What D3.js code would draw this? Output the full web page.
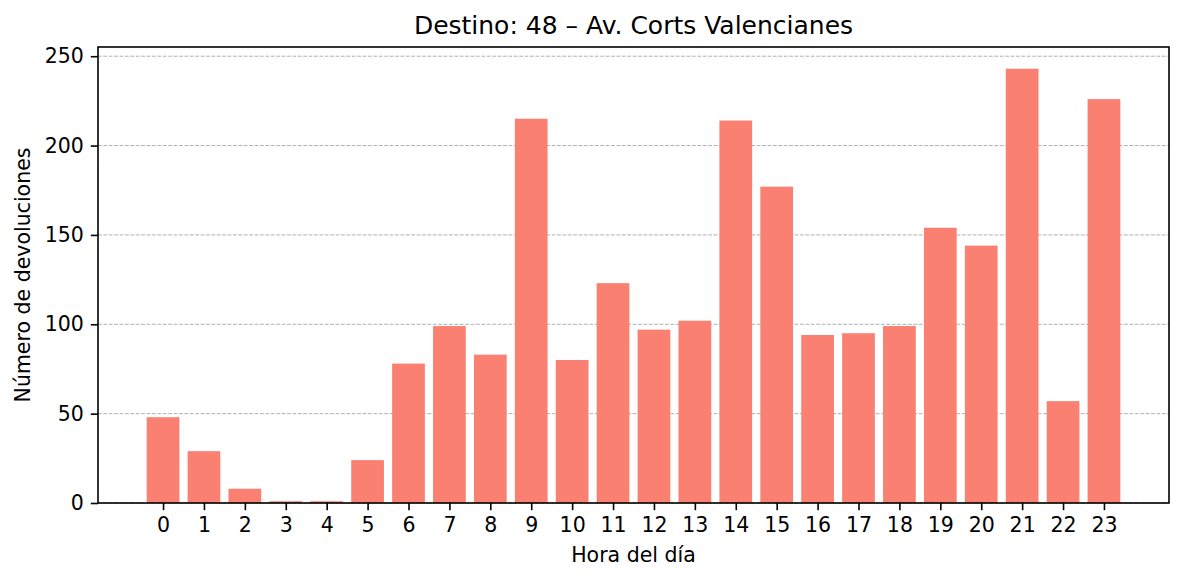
<!DOCTYPE html>
<html>
<head>
<meta charset="utf-8">
<script src="https://cdn.jsdelivr.net/npm/d3@7"></script>
<style>
  html, body { margin: 0; padding: 0; background: #fff; }
  svg { display: block; font-family: "DejaVu Sans", sans-serif; }
</style>
</head>
<body>
<svg id="chart" width="1184" height="581"></svg>
<script>
const hours = [0,1,2,3,4,5,6,7,8,9,10,11,12,13,14,15,16,17,18,19,20,21,22,23];
const devoluciones = [48,29,8,1,1,24,78,99,83,215,80,123,97,102,214,177,94,95,99,154,144,243,57,226];
const yTicks = [0,50,100,150,200,250];
const titleText = "Destino: 48 – Av. Corts Valencianes";
const xLabel = "Hora del día";
const yLabel = "Número de devoluciones";

const svg = d3.select("#chart");
const L = 98, R = 1169, T = 47, B = 503;
const barW = 0.8;

const xMin = -barW/2, xMax = hours.length - 1 + barW/2;
const xPad = (xMax - xMin) * 0.05;
const x = d3.scaleLinear().domain([xMin - xPad, xMax + xPad]).range([L, R]);
const yMax = d3.max(devoluciones) * 1.05;
const y = d3.scaleLinear().domain([0, yMax]).range([B, T]);

// grid
svg.append("g").selectAll("line").data(yTicks).join("line")
  .attr("x1", L).attr("x2", R)
  .attr("y1", d => y(d)).attr("y2", d => y(d))
  .attr("stroke", "#b0b0b0").attr("stroke-width", 1)
  .attr("stroke-dasharray", "3.8,1.6");

// bars
svg.append("g").selectAll("rect").data(hours).join("rect")
  .attr("x", (d) => x(d - barW/2))
  .attr("width", (d) => x(d + barW/2) - x(d - barW/2))
  .attr("y", (d, i) => y(devoluciones[i]))
  .attr("height", (d, i) => y(0) - y(devoluciones[i]))
  .attr("fill", "#FA8072");

// axes
const xAxis = d3.axisBottom(x).tickValues(hours).tickFormat(d3.format("d"))
  .tickSize(7.2).tickPadding(7);
const yAxis = d3.axisLeft(y).tickValues(yTicks).tickFormat(d3.format("d"))
  .tickSize(7.2).tickPadding(7);

const gx = svg.append("g").attr("transform", `translate(0,${B})`).call(xAxis);
const gy = svg.append("g").attr("transform", `translate(${L},0)`).call(yAxis);
[gx, gy].forEach(g => {
  g.select(".domain").remove();
  g.selectAll(".tick line").attr("stroke", "#000").attr("stroke-width", 1.6);
  g.selectAll(".tick text").attr("fill", "#000")
    .style("font-family", "'DejaVu Sans', sans-serif").style("font-size", "20.5px");
});

// frame
svg.append("rect").attr("x", L).attr("y", T).attr("width", R - L).attr("height", B - T)
  .attr("fill", "none").attr("stroke", "#000").attr("stroke-width", 1.6);

// title
svg.append("text").attr("x", (L + R) / 2).attr("y", 34).attr("text-anchor", "middle")
  .style("font-size", "25px").attr("fill", "#000").text(titleText);
// x label
svg.append("text").attr("x", (L + R) / 2).attr("y", 562).attr("text-anchor", "middle")
  .style("font-size", "20.5px").attr("fill", "#000").text(xLabel);
// y label
svg.append("text").attr("transform", `translate(30,${(T + B) / 2}) rotate(-90)`)
  .attr("text-anchor", "middle").style("font-size", "20.5px").attr("fill", "#000").text(yLabel);
</script>
</body>
</html>
